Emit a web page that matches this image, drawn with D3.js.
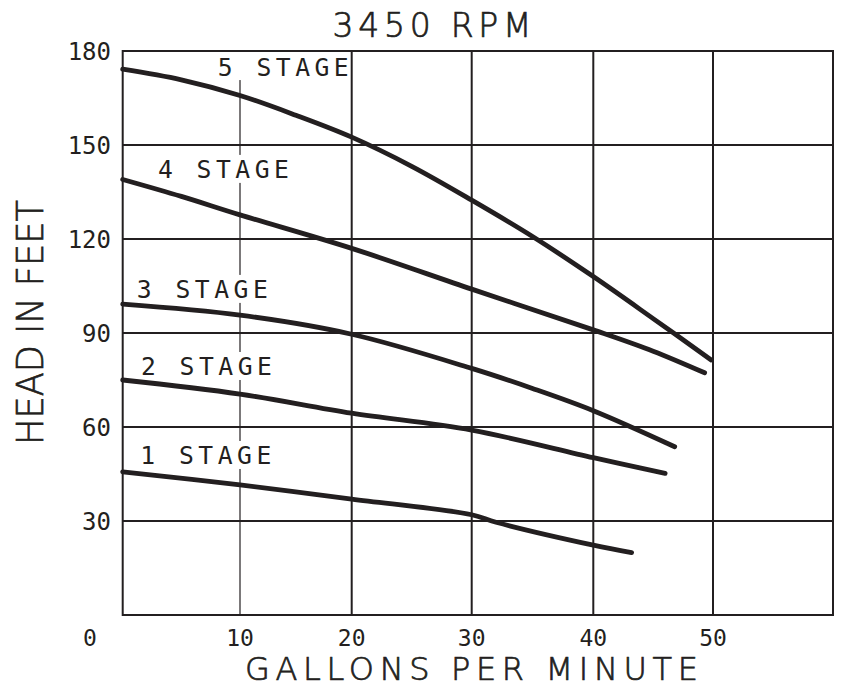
<!DOCTYPE html>
<html>
<head>
<meta charset="utf-8">
<script src="https://cdn.jsdelivr.net/npm/d3@7"></script>
<style>
  body { margin: 0; background: #fff; }
  text { font-family: "DejaVu Sans Mono", monospace; fill: #231f20; }
  text.title { font-family: "DejaVu Sans", sans-serif; font-weight: 200; stroke: #231f20; stroke-width: 0.7px; }
</style>
</head>
<body>
<div id="chart"></div>
<script>
// pump curves (gpm -> head in feet)
const gpm1 = [0, 10, 20, 30, 32, 40, 43.2];
const head1 = [45.7, 41.5, 37, 32, 29.6, 22.3, 19.9];
const gpm2 = [0, 10, 20, 30, 40, 46];
const head2 = [75, 70.5, 64.4, 59, 50.2, 45.2];
const gpm3 = [0, 10, 20, 30, 35, 40, 46.8];
const head3 = [99.2, 95.7, 89.6, 78.7, 72.3, 65.2, 53.7];
const gpm4 = [0, 5, 10, 20, 30, 40, 45, 49.3];
const head4 = [139, 133.6, 127.7, 117, 104, 91, 84.2, 77.3];
const gpm5 = [0, 5, 10, 15, 20, 25, 30, 35, 40, 45, 49.85];
const head5 = [174.2, 170.8, 165.8, 159.5, 152.5, 143.2, 132.4, 120.8, 108, 94.6, 81.4];

const stageNames = ["1 STAGE", "2 STAGE", "3 STAGE", "4 STAGE", "5 STAGE"];
const xGrid = [10, 20, 30, 40, 50];
const yGrid = [30, 60, 90, 120, 150];
const xTicks = [0, 10, 20, 30, 40, 50];
const yTicks = [30, 60, 90, 120, 150, 180];

// where each stage label sits (gpm, head at baseline)
const labelAt = [[1.5, 48.2], [1.55, 76.6], [1.2, 101.2], [3.0, 139.5], [8.1, 172]];

const series = [
  [gpm1, head1], [gpm2, head2], [gpm3, head3], [gpm4, head4], [gpm5, head5]
].map(([g, h]) => g.map((v, i) => [v, h[i]]));

const width = 841, height = 688;
const ink = "#231f20";

// the drawn grid is not quite evenly spaced, so map each decade to its line
const x = d3.scaleLinear()
  .domain([0, 10, 20, 30, 40, 50, 60])
  .range([122.7, 240, 351.7, 471.7, 593.3, 713, 833]);
const y = d3.scaleLinear().domain([0, 180]).range([615, 51]);

const svg = d3.select("#chart").append("svg")
  .attr("width", width)
  .attr("height", height);

svg.append("rect").attr("width", width).attr("height", height).attr("fill", "#fff");

// grid
svg.selectAll(".vgrid").data(xGrid).enter().append("line")
  .attr("x1", d => x(d)).attr("x2", d => x(d))
  .attr("y1", y(180)).attr("y2", y(0))
  .attr("stroke", ink)
  .attr("stroke-width", d => d === 10 ? 1.2 : 2);

svg.selectAll(".hgrid").data(yGrid).enter().append("line")
  .attr("x1", x(0)).attr("x2", x(60))
  .attr("y1", d => y(d)).attr("y2", d => y(d))
  .attr("stroke", ink)
  .attr("stroke-width", 2);

// label knockouts (they break the thin 10 gpm line)
const labelLen = 131, labelSize = 24.7;
svg.selectAll(".knock").data(labelAt).enter().append("rect")
  .attr("x", d => x(d[0]))
  .attr("y", (d, i) => i === 4 ? y(180) : y(d[1]) - 18 - 5)
  .attr("width", labelLen - 2)
  .attr("height", (d, i) => i === 4 ? y(d[1]) + 4 - y(180) : 28)
  .attr("fill", "#fff");

// frame
svg.append("rect")
  .attr("x", x(0)).attr("y", y(180))
  .attr("width", x(60) - x(0)).attr("height", y(0) - y(180))
  .attr("fill", "none")
  .attr("stroke", ink)
  .attr("stroke-width", 2);

// curves
const line = d3.line()
  .x(d => x(d[0]))
  .y(d => y(d[1]))
  .curve(d3.curveCatmullRom.alpha(0.5));

svg.selectAll(".curve").data(series).enter().append("path")
  .attr("d", line)
  .attr("fill", "none")
  .attr("stroke", ink)
  .attr("stroke-width", 4.8)
  .attr("stroke-linecap", "round")
  .attr("stroke-linejoin", "round");

// stage labels
svg.selectAll(".stage").data(stageNames).enter().append("text")
  .attr("x", (d, i) => x(labelAt[i][0]))
  .attr("y", (d, i) => y(labelAt[i][1]))
  .attr("font-size", labelSize)
  .attr("textLength", labelLen)
  .attr("lengthAdjust", "spacing")
  .text(d => d);

// tick labels
svg.selectAll(".ylab").data(yTicks).enter().append("text")
  .attr("x", 111)
  .attr("y", d => y(d) + 8.5)
  .attr("text-anchor", "end")
  .attr("font-size", 24)
  .text(d => d);

svg.selectAll(".xlab").data(xTicks).enter().append("text")
  .attr("x", d => d === 0 ? 90 : x(d))
  .attr("y", 646)
  .attr("text-anchor", "middle")
  .attr("font-size", 23)
  .text(d => d);

// titles
svg.append("text")
  .attr("class", "title")
  .attr("x", 432).attr("y", 37)
  .attr("text-anchor", "middle")
  .attr("font-size", 33)
  .attr("textLength", 199)
  .attr("lengthAdjust", "spacing")
  .text("3450 RPM");

svg.append("text")
  .attr("class", "title")
  .attr("x", 471.5).attr("y", 680)
  .attr("text-anchor", "middle")
  .attr("font-size", 32)
  .attr("textLength", 453)
  .attr("lengthAdjust", "spacing")
  .text("GALLONS PER MINUTE");

svg.append("text")
  .attr("class", "title")
  .attr("transform", "translate(43,322.5) rotate(-90)")
  .attr("text-anchor", "middle")
  .attr("font-size", 38)
  .attr("textLength", 245)
  .attr("lengthAdjust", "spacingAndGlyphs")
  .text("HEAD IN FEET");
</script>
</body>
</html>
